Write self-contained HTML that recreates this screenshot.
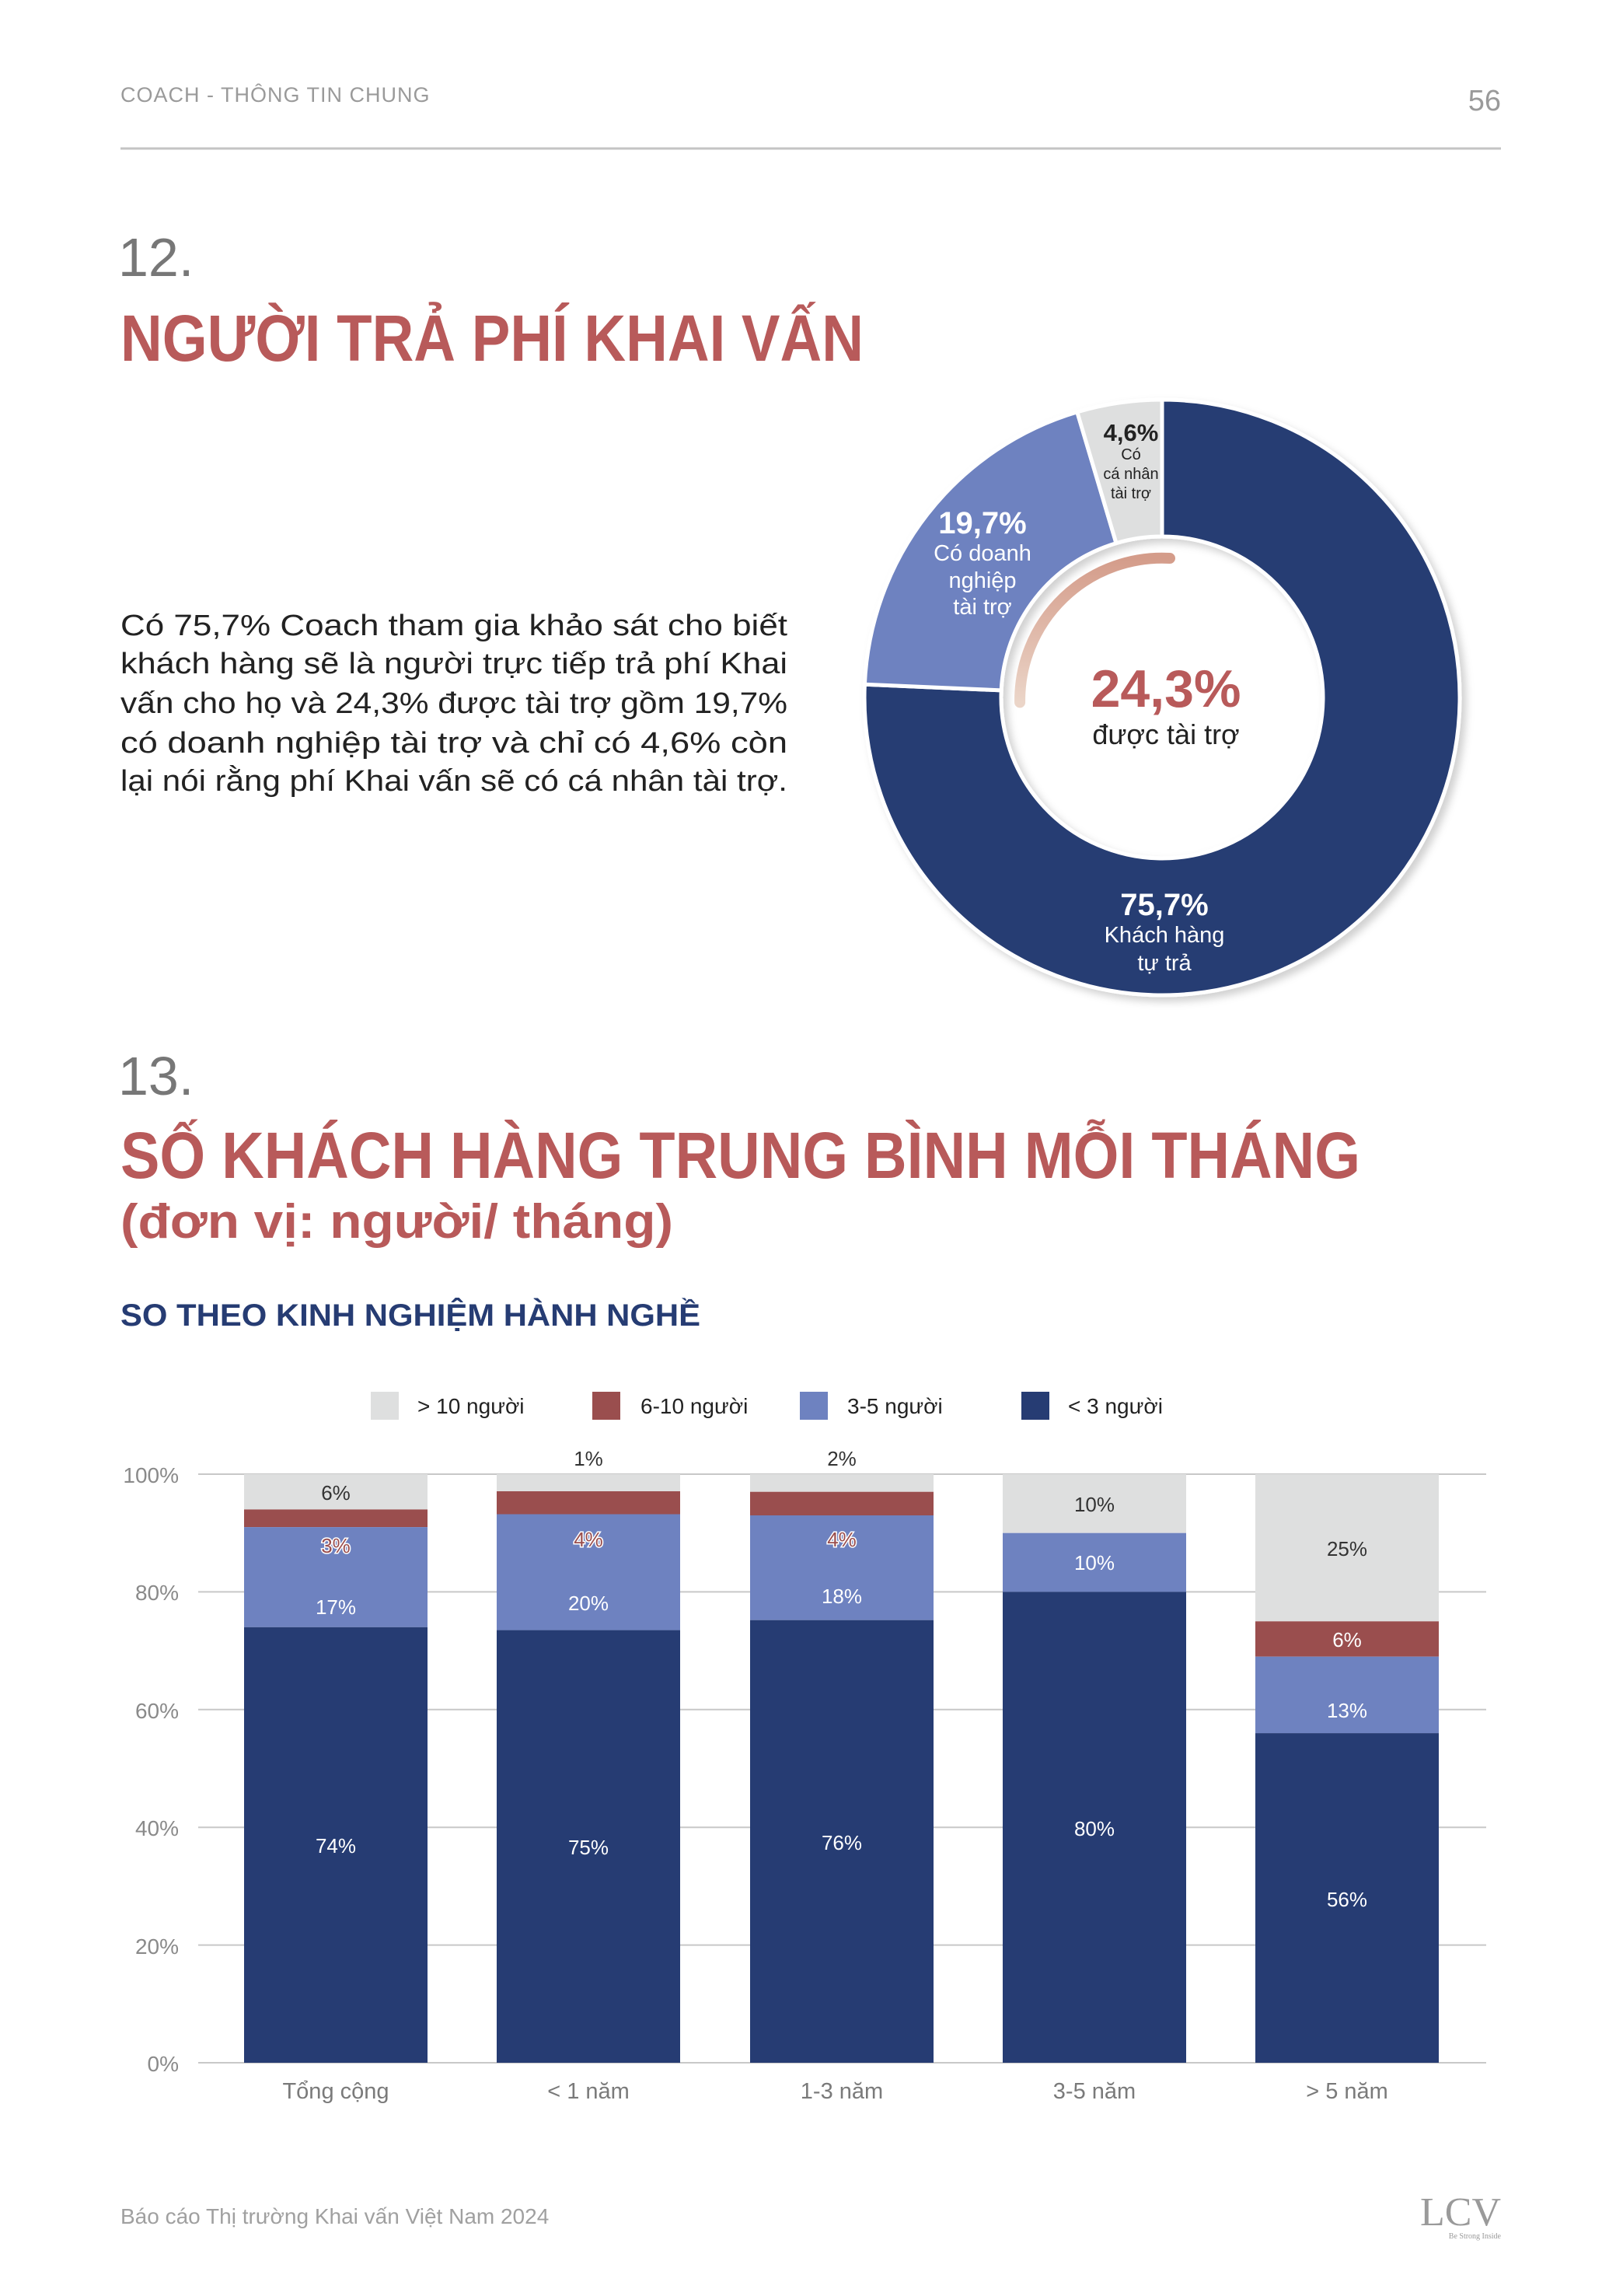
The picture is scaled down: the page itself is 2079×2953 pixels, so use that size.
<!DOCTYPE html>
<html><head><meta charset="utf-8"><style>
html,body{margin:0;padding:0;background:#fff}
svg{display:block}
text{font-family:"Liberation Sans","DejaVu Sans",sans-serif}
</style></head><body>
<svg width="2079" height="2953" viewBox="0 0 2079 2953" xmlns="http://www.w3.org/2000/svg">
<defs>
<linearGradient id="pg" x1="0" y1="0" x2="0" y2="1">
<stop offset="0" stop-color="#D49C8A"/><stop offset="1" stop-color="#EBD5C8"/>
</linearGradient>
<filter id="sh" x="-10%" y="-10%" width="125%" height="125%">
<feDropShadow dx="6" dy="6" stdDeviation="5" flood-color="#000" flood-opacity="0.18"/>
</filter>
</defs>
<text x="155" y="131" font-size="27" fill="#9a9a9a" letter-spacing="1">COACH - THÔNG TIN CHUNG</text>
<text x="1931" y="142" font-size="38" fill="#9a9a9a" text-anchor="end">56</text>
<line x1="155" y1="191" x2="1931" y2="191" stroke="#c4c4c4" stroke-width="3"/>
<text x="152" y="355" font-size="70" fill="#777">12.</text>
<text x="155" y="464" font-size="84" font-weight="bold" fill="#B85A5A" textLength="956" lengthAdjust="spacingAndGlyphs">NGƯỜI TRẢ PHÍ KHAI VẤN</text>
<g font-size="38" fill="#222">
<text x="155" y="817" textLength="858" lengthAdjust="spacingAndGlyphs">Có 75,7% Coach tham gia khảo sát cho biết</text>
<text x="155" y="866" textLength="858" lengthAdjust="spacingAndGlyphs">khách hàng sẽ là người trực tiếp trả phí Khai</text>
<text x="155" y="917" textLength="858" lengthAdjust="spacingAndGlyphs">vấn cho họ và 24,3% được tài trợ gồm 19,7%</text>
<text x="155" y="968" textLength="858" lengthAdjust="spacingAndGlyphs">có doanh nghiệp tài trợ và chỉ có 4,6% còn</text>
<text x="155" y="1017" textLength="858" lengthAdjust="spacingAndGlyphs">lại nói rằng phí Khai vấn sẽ có cá nhân tài trợ.</text>
</g>
<g filter="url(#sh)" stroke="#fff" stroke-width="5" stroke-linejoin="round">
<path d="M1495 514 A383 383 0 1 1 1112.4 880.2 L1288.2 887.9 A207 207 0 1 0 1495 690 Z" fill="#263C73"/>
<path d="M1112.4 880.2 A383 383 0 0 1 1385.8 529.9 L1436 698.6 A207 207 0 0 0 1288.2 887.9 Z" fill="#6E82C0"/>
<path d="M1385.8 529.9 A383 383 0 0 1 1495 514 L1495 690 A207 207 0 0 0 1436 698.6 Z" fill="#DEDFDF"/>
</g>
<path d="M1505 718 A183 183 0 0 0 1312.1 903.4" fill="none" stroke="url(#pg)" stroke-width="14" stroke-linecap="round"/>
<text x="1500" y="909" font-size="68" font-weight="bold" fill="#B85A5A" text-anchor="middle">24,3%</text>
<text x="1500" y="957" font-size="36" fill="#222" text-anchor="middle">được tài trợ</text>
<g fill="#fff" text-anchor="middle">
<text x="1498" y="1177" font-size="40" font-weight="bold">75,7%</text>
<text x="1498" y="1212" font-size="29">Khách hàng</text>
<text x="1498" y="1248" font-size="29">tự trả</text>
<text x="1264" y="686" font-size="40" font-weight="bold">19,7%</text>
<text x="1264" y="721" font-size="29">Có doanh</text>
<text x="1264" y="756" font-size="29">nghiệp</text>
<text x="1264" y="790" font-size="29">tài trợ</text>
</g>
<g fill="#222" text-anchor="middle">
<text x="1455" y="567" font-size="31" font-weight="bold">4,6%</text>
<text x="1455" y="591" font-size="20">Có</text>
<text x="1455" y="616" font-size="20">cá nhân</text>
<text x="1455" y="641" font-size="20">tài trợ</text>
</g>
<text x="152" y="1408" font-size="70" fill="#777">13.</text>
<text x="155" y="1515" font-size="84" font-weight="bold" fill="#B85A5A" textLength="1595" lengthAdjust="spacingAndGlyphs">SỐ KHÁCH HÀNG TRUNG BÌNH MỖI THÁNG</text>
<text x="155" y="1592" font-size="62" font-weight="bold" fill="#B85A5A" textLength="711" lengthAdjust="spacingAndGlyphs">(đơn vị: người/ tháng)</text>
<text x="155" y="1705" font-size="40" font-weight="bold" fill="#263C73" textLength="746" lengthAdjust="spacingAndGlyphs">SO THEO KINH NGHIỆM HÀNH NGHỀ</text>
<g transform="translate(0,-4)">
<g font-size="28" fill="#222">
<rect x="477" y="1794" width="36" height="36" fill="#DEDFDF"/><text x="537" y="1822">&gt; 10 người</text>
<rect x="762" y="1794" width="36" height="36" fill="#9A4E4E"/><text x="824" y="1822">6-10 người</text>
<rect x="1029" y="1794" width="36" height="36" fill="#6E82C0"/><text x="1090" y="1822">3-5 người</text>
<rect x="1314" y="1794" width="36" height="36" fill="#263C73"/><text x="1374" y="1822">&lt; 3 người</text>
</g>
<g stroke="#c8c8c8" stroke-width="2">
<line x1="255" y1="1900" x2="1912" y2="1900"/>
<line x1="255" y1="2051.4" x2="1912" y2="2051.4"/>
<line x1="255" y1="2202.8" x2="1912" y2="2202.8"/>
<line x1="255" y1="2354.2" x2="1912" y2="2354.2"/>
<line x1="255" y1="2505.6" x2="1912" y2="2505.6"/>
<line x1="255" y1="2657" x2="1912" y2="2657"/>
</g>
<g font-size="28" fill="#8a8a8a" text-anchor="end">
<text x="230" y="1911">100%</text>
<text x="230" y="2062">80%</text>
<text x="230" y="2214">60%</text>
<text x="230" y="2365">40%</text>
<text x="230" y="2517">20%</text>
<text x="230" y="2668">0%</text>
</g>
<g>
<rect x="314" y="1900" width="236" height="45.4" fill="#DEDFDF"/>
<rect x="314" y="1945.4" width="236" height="22.7" fill="#9A4E4E"/>
<rect x="314" y="1968.1" width="236" height="128.7" fill="#6E82C0"/>
<rect x="314" y="2096.8" width="236" height="560.2" fill="#263C73"/>
<rect x="639" y="1900" width="236" height="22" fill="#DEDFDF"/>
<rect x="639" y="1922" width="236" height="29.5" fill="#9A4E4E"/>
<rect x="639" y="1951.5" width="236" height="149.1" fill="#6E82C0"/>
<rect x="639" y="2100.6" width="236" height="556.4" fill="#263C73"/>
<rect x="965" y="1900" width="236" height="22.7" fill="#DEDFDF"/>
<rect x="965" y="1922.7" width="236" height="30.3" fill="#9A4E4E"/>
<rect x="965" y="1953" width="236" height="134.7" fill="#6E82C0"/>
<rect x="965" y="2087.7" width="236" height="569.3" fill="#263C73"/>
<rect x="1290" y="1900" width="236" height="75.7" fill="#DEDFDF"/>
<rect x="1290" y="1975.7" width="236" height="75.7" fill="#6E82C0"/>
<rect x="1290" y="2051.4" width="236" height="605.6" fill="#263C73"/>
<rect x="1615" y="1900" width="236" height="189.3" fill="#DEDFDF"/>
<rect x="1615" y="2089.3" width="236" height="45.4" fill="#9A4E4E"/>
<rect x="1615" y="2134.7" width="236" height="98.4" fill="#6E82C0"/>
<rect x="1615" y="2233.1" width="236" height="423.9" fill="#263C73"/>
</g>
<g font-size="26" text-anchor="middle" transform="translate(0,-3)">
<g fill="#333">
<text x="432" y="1936">6%</text>
<text x="757" y="1892">1%</text>
<text x="1083" y="1892">2%</text>
<text x="1408" y="1951">10%</text>
<text x="1733" y="2008">25%</text>
</g>
<g fill="#9A4E4E" stroke="#fff" stroke-width="3" paint-order="stroke">
<text x="432" y="2004">3%</text>
<text x="757" y="1996">4%</text>
<text x="1083" y="1996">4%</text>
</g>
<g fill="#fff">
<text x="432" y="2083">17%</text>
<text x="432" y="2390">74%</text>
<text x="757" y="2078">20%</text>
<text x="757" y="2392">75%</text>
<text x="1083" y="2069">18%</text>
<text x="1083" y="2386">76%</text>
<text x="1408" y="2026">10%</text>
<text x="1408" y="2368">80%</text>
<text x="1733" y="2125">6%</text>
<text x="1733" y="2216">13%</text>
<text x="1733" y="2459">56%</text>
</g>
</g>
<g font-size="29" fill="#7a7a7a" text-anchor="middle">
<text x="432" y="2703">Tổng cộng</text>
<text x="757" y="2703">&lt; 1 năm</text>
<text x="1083" y="2703">1-3 năm</text>
<text x="1408" y="2703">3-5 năm</text>
<text x="1733" y="2703">&gt; 5 năm</text>
</g>
</g>
<text x="155" y="2860" font-size="28" fill="#a0a0a0">Báo cáo Thị trường Khai vấn Việt Nam 2024</text>
<text x="1931" y="2862" font-size="52" fill="#9a9a9a" text-anchor="end" style="font-family:'Liberation Serif',serif">LCV</text>
<text x="1931" y="2879" font-size="10" fill="#9a9a9a" text-anchor="end" style="font-family:'Liberation Serif',serif">Be Strong Inside</text>
</svg>
</body></html>
